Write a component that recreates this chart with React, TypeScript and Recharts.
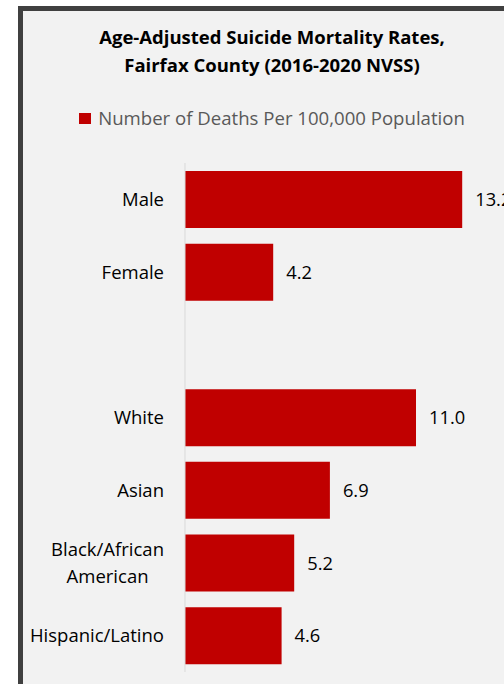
import React from 'react'
import { BarChart, Bar, XAxis, YAxis, Legend, LabelList } from 'recharts'

// rows of the chart; the empty entry leaves a spacer row between sex and race groups
const GROUPS = ['Male', 'Female', '', 'White', 'Asian', 'Black/African\nAmerican', 'Hispanic/Latino']
const RATES: (number | null)[] = [13.2, 4.2, null, 11.0, 6.9, 5.2, 4.6]
const SERIES_NAME = 'Number of Deaths Per 100,000 Population'
const TITLE = ['Age-Adjusted Suicide Mortality Rates,', 'Fairfax County (2016-2020 NVSS)']
const X_DOMAIN = [0, 16]

const RED = '#C00000'
const FONT = '"Open Sans", sans-serif'
const TICK_SIZE = 18.5

const data = GROUPS.map((g, i) => ({ group: g, rate: RATES[i] }))

let ctx: CanvasRenderingContext2D | null = null
const textWidth = (t: string) => {
  if (!ctx) ctx = document.createElement('canvas').getContext('2d')
  if (!ctx) return t.length * 9
  ctx.font = `${TICK_SIZE}px ${FONT}`
  return ctx.measureText(t).width
}

// wrapped category labels: lines centred on each other, right edge at the tick
const GroupTick = ({ x, y, payload }: any) => {
  const lines = String(payload.value).split('\n').filter(Boolean)
  if (!lines.length) return null
  const w = Math.max(...lines.map(textWidth))
  const cx = x - w / 2
  const lh = 27
  const y0 = y - ((lines.length - 1) * lh) / 2 + 6.5
  return (
    <text fontFamily={FONT} fontSize={TICK_SIZE} fill="#000" textAnchor="middle">
      {lines.map((l, i) => (
        <tspan key={i} x={cx} y={y0 + i * lh}>{l}</tspan>
      ))}
    </text>
  )
}

const LegendBox = ({ payload }: any) => {
  const item = payload?.[0]
  return (
    <div style={{ display: 'flex', justifyContent: 'center', alignItems: 'center', fontFamily: FONT, fontSize: 18.6, color: '#595959', lineHeight: '24px' }}>
      <span style={{ display: 'inline-block', width: 12, height: 11, background: item?.color ?? RED, marginRight: 7 }} />
      {item?.value ?? SERIES_NAME}
    </div>
  )
}

export default function App() {
  return (
    <div style={{ position: 'absolute', left: 0, top: 0, width: 504, height: 684, overflow: 'hidden', background: '#fff' }}>
      <div style={{
        position: 'absolute', left: 18, top: 6, width: 498, height: 700,
        borderLeft: '5px solid #404040', borderTop: '5px solid #404040', background: '#F2F2F2',
      }}>
        <div style={{
          position: 'absolute', left: 0, top: 12, width: 498, textAlign: 'center',
          fontFamily: FONT, fontWeight: 700, fontSize: 18.5, lineHeight: '28px', color: '#000',
        }}>
          {TITLE.map(t => <div key={t}>{t}</div>)}
        </div>
        <BarChart
          width={498}
          height={673}
          layout="vertical"
          data={data}
          margin={{ top: 112, right: 0, bottom: 12, left: 0 }}
        >
          <XAxis type="number" domain={X_DOMAIN} hide />
          <YAxis
            type="category"
            dataKey="group"
            width={162}
            axisLine={{ stroke: '#D9D9D9' }}
            tickLine={false}
            tickSize={0}
            tickMargin={21}
            tick={<GroupTick />}
            interval={0}
          />
          <Legend
            verticalAlign="top"
            content={<LegendBox />}
            wrapperStyle={{ top: 95, left: 0, width: 498, height: 40 }}
          />
          <Bar dataKey="rate" name={SERIES_NAME} fill={RED} barSize={57} isAnimationActive={false}>
            <LabelList
              dataKey="rate"
              position="right"
              offset={13}
              fontFamily={FONT}
              fontSize={18.3}
              fill="#000"
              formatter={(v: any) => (v == null ? '' : Number(v).toFixed(1))}
            />
          </Bar>
        </BarChart>
      </div>
    </div>
  )
}
